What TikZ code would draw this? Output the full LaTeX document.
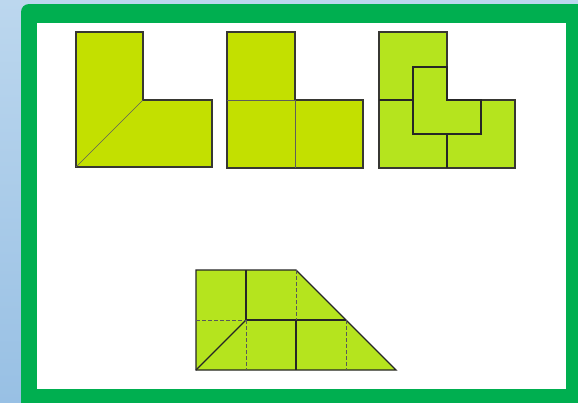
\documentclass[tikz,border=0pt]{standalone}
\usetikzlibrary{calc}
\definecolor{framegreen}{RGB}{0,175,80}
\definecolor{tilegreen}{RGB}{195,224,0}
\definecolor{tilelime}{RGB}{181,228,30}
\definecolor{edgegray}{RGB}{55,55,50}
\definecolor{skyblue}{RGB}{152,192,228}
\definecolor{paleblue}{RGB}{188,215,238}
\tikzset{
  tile/.style={fill=#1, draw=edgegray, line width=1.3pt, line join=miter},
  seam/.style={draw=edgegray!80, line width=0.6pt},
  cut/.style={draw=black!85, line width=1.4pt},
  fold/.style={draw=black!65, line width=0.8pt, dash pattern=on 3.5pt off 2.5pt}
}

\begin{document}
\begin{tikzpicture}[x=1pt, y=-1pt]
\useasboundingbox (0,0) rectangle (578,402);
\clip (0,0) rectangle (578,402);
% background and frame
\shade[top color=paleblue, bottom color=skyblue] (0,0) rectangle (578,402);
\fill[framegreen, rounded corners=8pt] (21,4) rectangle (610,430);
\fill[white] (37,23) rectangle (566,389);

% first L, cut along the diagonal
\filldraw[tile=tilegreen] (76,32) -- (143,32) -- (143,100) -- (212,100) -- (212,167) -- (76,167) -- cycle;
\draw[seam] (76,167) -- (143,100);

% second L, three squares
\filldraw[tile=tilegreen] (227,32) -- (295,32) -- (295,100) -- (363,100) -- (363,168) -- (227,168) -- cycle;
\draw[seam] (227,100) -- (295,100) -- (295,168);

% third L, four small L's
\filldraw[tile=tilelime] (379,32) -- (447,32) -- (447,100) -- (515,100) -- (515,168) -- (379,168) -- cycle;
\draw[cut] (413,67) -- (447,67) -- (447,100) -- (481,100) -- (481,134) -- (413,134) -- cycle;
\draw[cut] (379,100) -- (413,100);
\draw[cut] (447,134) -- (447,168);

% trapezoid
\filldraw[tile=tilelime, draw=black!85, line width=1.4pt] (196,270) -- (296,270) -- (396,370) -- (196,370) -- cycle;
\draw[cut] (246,270) -- (246,320) -- (346,320);
\draw[cut] (296,320) -- (296,370);
\draw[cut] (196,370) -- (246,320);
\draw[fold] (196,320) -- (246,320);
\draw[fold] (296,270) -- (296,320);
\draw[fold] (246,320) -- (246,370);
\draw[fold] (346,320) -- (346,370);
\end{tikzpicture}
\end{document}
